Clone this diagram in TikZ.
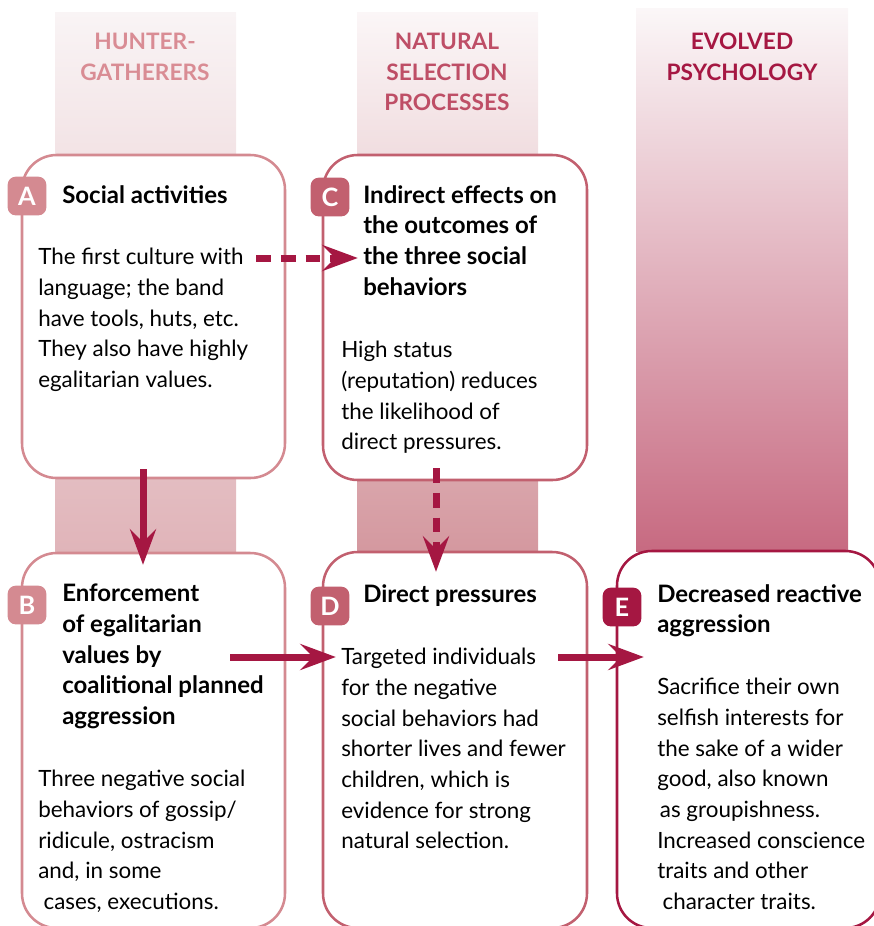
\documentclass[tikz,border=0pt]{standalone}
\usepackage{fontspec}
\setmainfont{Lato}
\usetikzlibrary{arrows.meta}
\usetikzlibrary{calc}

\definecolor{roseA}{RGB}{212,138,145}
\definecolor{roseC}{RGB}{194,96,111}
\definecolor{crim}{RGB}{165,23,66}
\definecolor{hdrA}{RGB}{217,140,148}
\definecolor{hdrC}{RGB}{190,78,102}
\definecolor{bandAtop}{RGB}{249,244,245}
\definecolor{bandAbot}{RGB}{224,180,185}
\definecolor{bandCtop}{RGB}{251,246,247}
\definecolor{bandCbot}{RGB}{212,152,159}
\definecolor{bandEtop}{RGB}{251,247,248}
\definecolor{bandEbot}{RGB}{199,106,129}

\begin{document}
\begin{tikzpicture}[x=0.75pt,y=-0.75pt,
    box/.style={rectangle,rounded corners=26pt,fill=white,line width=1.9pt,inner sep=0pt},
    badge/.style={rectangle,rounded corners=6pt,minimum size=29pt,inner sep=0pt,text=white,font=\bfseries\fontsize{19}{19}\selectfont},
    hdr/.style={anchor=north,align=center,inner sep=0pt,font=\bfseries\fontsize{17}{23}\selectfont},
    ttl/.style={anchor=north west,align=left,inner sep=0pt,font=\bfseries\fontsize{18}{23}\selectfont},
    txt/.style={anchor=north west,align=left,inner sep=0pt,font=\fontsize{16.8}{23}\selectfont},
    arr/.style={draw=crim,line width=5.25pt,-{Stealth[length=27pt,width=20pt,inset=10pt,line width=0pt]}},
    darr/.style={arr,dash pattern=on 11pt off 7.5pt}]
    \useasboundingbox (0,0) rectangle (874,926);

    \shade[top color=bandAtop,bottom color=bandAbot] (55,12) rectangle (236,553);
    \shade[top color=bandCtop,bottom color=bandCbot] (357,12) rectangle (538,553);
    \shade[top color=bandEtop,bottom color=bandEbot] (636,8) rectangle (848,551);

    \node[hdr,text=hdrA] (hA) at (145,33) {HUNTER-\\GATHERERS};
    \node[hdr,text=hdrC] (hC) at (447,33) {NATURAL\\SELECTION\\PROCESSES};
    \node[hdr,text=crim] (hE) at (742,33) {EVOLVED\\PSYCHOLOGY};

    \node[box,draw=roseA,minimum width=197.25pt,minimum height=242.25pt] (A) at (153.5,316.5) {};
    \node[box,draw=roseC,minimum width=198pt,minimum height=243.75pt] (C) at (455,317.5) {};
    \node[box,draw=roseA,minimum width=197.25pt,minimum height=281.25pt] (B) at (153.5,740.5) {};
    \node[box,draw=roseC,minimum width=198pt,minimum height=282pt] (D) at (455,740) {};
    \node[box,draw=crim,minimum width=197.25pt,minimum height=282.75pt] (E) at (748.5,739.5) {};

    \node[badge,fill=roseA] (a) at (27,196) {A};
    \node[badge,fill=roseA] (b) at (27,605) {B};
    \node[badge,fill=roseC] (c) at (330,197) {C};
    \node[badge,fill=roseC] (d) at (330,606) {D};
    \node[badge,fill=crim] (e) at (622,607) {E};

    \node[ttl] (At) at (62,185) {Social activities};
    \node[txt] (Ab) at (38,248) {The first culture with\\language; the band\\have tools, huts, etc.\\They also have highly\\egalitarian values.};
    \node[ttl] (Ct) at (363,185) {Indirect effects on\\the outcomes of\\the three social\\behaviors};
    \node[txt] (Cb) at (341,341) {High status\\(reputation) reduces\\the likelihood of\\direct pressures.};
    \node[ttl] (Bt) at (62,584) {Enforcement\\of egalitarian\\values by\\coalitional planned\\aggression};
    \node[txt] (Bb) at (38,770) {Three negative social\\behaviors of gossip/\\ridicule, ostracism\\and, in some\\\hspace*{4pt}cases, executions.};
    \node[ttl] (Dt) at (363,584) {Direct pressures};
    \node[txt] (Db) at (341,648) {Targeted individuals\\for the negative\\social behaviors had\\shorter lives and fewer\\children, which is\\evidence for strong\\natural selection.};
    \node[ttl] (Et) at (657,584) {Decreased reactive\\aggression};
    \node[txt] (Eb) at (657,678) {Sacrifice their own\\selfish interests for\\the sake of a wider\\good, also known\\\hspace*{2pt}as groupishness.\\Increased conscience\\traits and other\\\hspace*{4pt}character traits.};

    \draw[arr] ($(A.south)+(-10.5,-10)$) -- ($(B.north)+(-10.5,13)$);
    \draw[darr] ($(C.south)+(-19,-13)$) -- ($(D.north)+(-19,21)$);
    \draw[darr] ($(A.east)+(-30,-58.5)$) -- ($(C.west)+(36,-59.5)$);
    \draw[arr] ($(B.east)+(-56,-83.5)$) -- ($(D.west)+(14,-83)$);
    \draw[arr] ($(D.east)+(-30,-83)$) -- ($(E.west)+(28,-82.5)$);
\end{tikzpicture}
\end{document}
